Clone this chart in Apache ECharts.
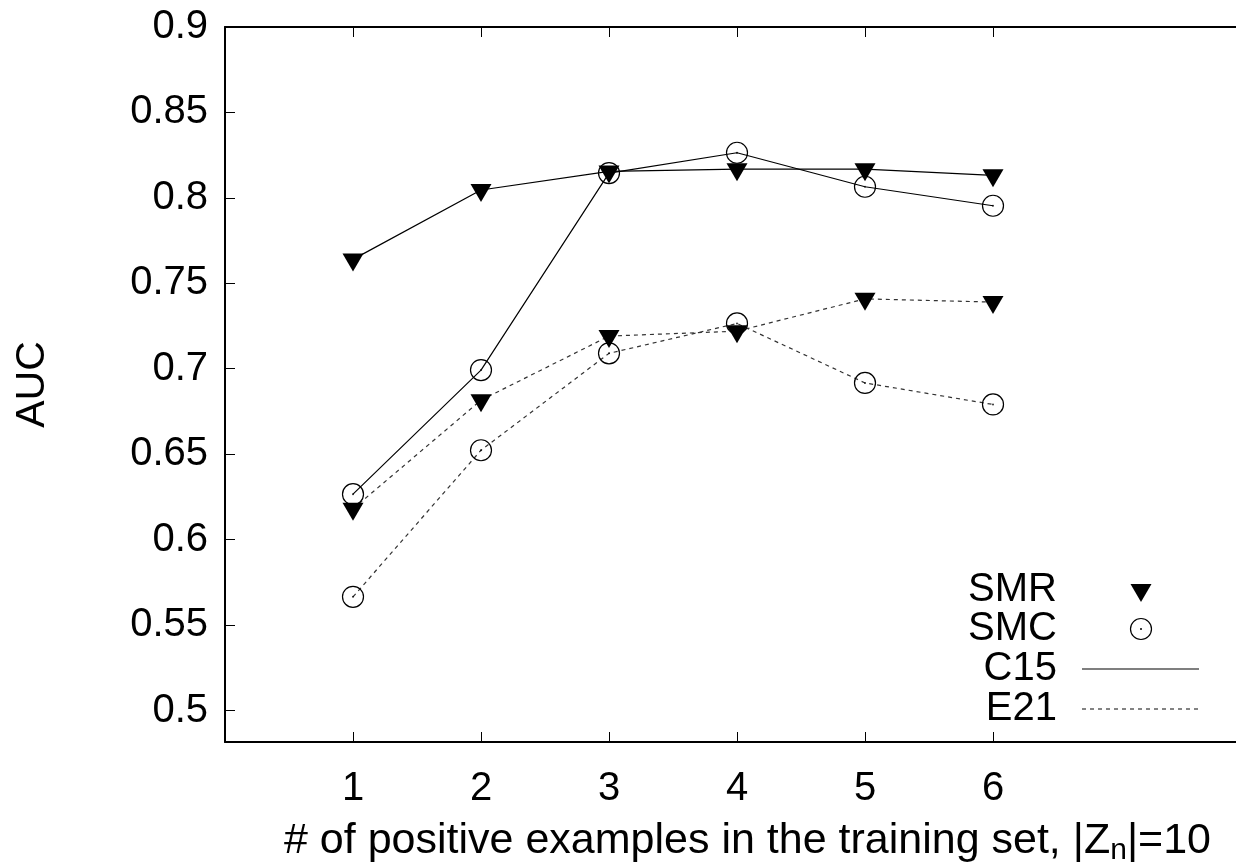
<!DOCTYPE html>
<html>
<head>
<meta charset="utf-8">
<script src="https://cdn.jsdelivr.net/npm/echarts@6/dist/echarts.min.js"></script>
<style>
html,body{margin:0;padding:0;background:#fff;}
#chart{width:1236px;height:863px;}
</style>
</head>
<body>
<div id="chart"></div>
<script>
// ---- data ----
const xValues = [1, 2, 3, 4, 5, 6];
const smrC15 = [0.764, 0.8046, 0.8155, 0.8168, 0.8168, 0.8132];
const smcC15 = [0.6266, 0.6992, 0.8145, 0.8264, 0.8065, 0.7954];
const smrE21 = [0.618, 0.6816, 0.7191, 0.722, 0.7409, 0.739];
const smcE21 = [0.5665, 0.6523, 0.709, 0.7265, 0.6917, 0.6791];
const yTicks = [0.5, 0.55, 0.6, 0.65, 0.7, 0.75, 0.8, 0.85, 0.9];
const xTicks = [1, 2, 3, 4, 5, 6];
const legendLabels = ['SMR', 'SMC', 'C15', 'E21'];

const FONT = 'Liberation Sans, Arial, sans-serif';
const FS = 40;

function pairs(ys) { return xValues.map((x, i) => [x, ys[i]]); }

const triSym = {
  symbol: 'triangle', symbolRotate: 180, symbolSize: [21, 18], symbolOffset: [0, 3],
  itemStyle: { color: '#000', borderWidth: 0 }
};
const circSym = {
  symbol: 'circle', symbolSize: 21,
  itemStyle: { color: 'rgba(0,0,0,0)', borderColor: '#000', borderWidth: 1.2 }
};
const solid = { color: '#000', width: 1.2, type: 'solid' };
const dashed = { color: '#333', width: 1.2, type: [4, 4] };

function lineSeries(name, ys, sym, ls) {
  return Object.assign({
    name: name, type: 'line', data: pairs(ys), showSymbol: true,
    lineStyle: ls, silent: true, animation: false, z: 2
  }, sym);
}
function dotSeries(ys) {
  return {
    type: 'scatter', data: pairs(ys), symbol: 'circle', symbolSize: 2,
    itemStyle: { color: '#000' }, silent: true, animation: false, z: 3
  };
}

const chart = echarts.init(document.getElementById('chart'), null, { renderer: 'canvas' });

const legX = 1057, legSampleX = 1141, legY = [590, 629, 669, 709];
const X_MAX = 1011 / 128;

const option = {
  animation: false,
  backgroundColor: '#fff',
  grid: { left: 225, top: 27, right: 0, bottom: 121, containLabel: false, outerBoundsMode: 'none' },
  xAxis: [{
    type: 'value', min: 0, max: X_MAX, position: 'bottom',
    axisLine: { show: true, onZero: false, lineStyle: { color: '#000', width: 2 } },
    axisTick: { show: true, inside: true, length: 10, customValues: xTicks, lineStyle: { color: '#000', width: 1 } },
    axisLabel: { show: true, customValues: xTicks, margin: 27, color: '#000', fontSize: FS, fontFamily: FONT },
    splitLine: { show: false },
    name: '# of positive examples in the training set, |Z{sub|n}|=10',
    nameLocation: 'middle', nameGap: 74,
    nameTextStyle: {
      color: '#000', fontSize: 43, fontFamily: FONT, padding: [0, 0, 0, 34],
      rich: { sub: { fontSize: 30, fontFamily: FONT, color: '#000', padding: [20, 0, 0, 0] } }
    }
  }, {
    type: 'value', min: 0, max: X_MAX, position: 'top',
    axisLine: { show: true, onZero: false, lineStyle: { color: '#000', width: 2 } },
    axisTick: { show: true, inside: true, length: 10, customValues: xTicks, lineStyle: { color: '#000', width: 1 } },
    axisLabel: { show: false },
    splitLine: { show: false }
  }],
  yAxis: [{
    type: 'value', min: 0.5 - 31.5 / 1708, max: 0.9,
    axisLine: { show: true, onZero: false, lineStyle: { color: '#000', width: 2 } },
    axisTick: { show: true, inside: true, length: 10, customValues: yTicks, lineStyle: { color: '#000', width: 1 } },
    axisLabel: {
      show: true, customValues: yTicks, margin: 17, color: '#000', fontSize: FS, fontFamily: FONT,
      formatter: v => String(Math.round(v * 100) / 100)
    },
    splitLine: { show: false },
    name: 'AUC', nameLocation: 'middle', nameGap: 172, nameRotate: 90,
    nameTextStyle: { color: '#000', fontSize: 41, fontFamily: FONT }
  }],
  series: [
    lineSeries('SMR C15', smrC15, triSym, solid),
    lineSeries('SMC C15', smcC15, circSym, solid),
    lineSeries('SMR E21', smrE21, triSym, dashed),
    lineSeries('SMC E21', smcE21, circSym, dashed),
    dotSeries(smcC15),
    dotSeries(smcE21)
  ],
  graphic: [
    ...legendLabels.map((t, i) => ({
      type: 'text', x: legX, y: legY[i],
      style: { text: t, fill: '#000', font: FS + 'px ' + FONT, textAlign: 'right', textVerticalAlign: 'middle' }
    })),
    { type: 'polygon', shape: { points: [[legSampleX - 10.5, legY[0] - 6], [legSampleX + 10.5, legY[0] - 6], [legSampleX, legY[0] + 12]] },
      style: { fill: '#000' } },
    { type: 'circle', shape: { cx: legSampleX, cy: legY[1], r: 10.5 }, style: { fill: 'none', stroke: '#000', lineWidth: 1.2 } },
    { type: 'circle', shape: { cx: legSampleX, cy: legY[1], r: 1 }, style: { fill: '#000' } },
    { type: 'line', shape: { x1: 1082, y1: legY[2], x2: 1199, y2: legY[2] }, style: { stroke: '#000', lineWidth: 1.2 } },
    { type: 'line', shape: { x1: 1082, y1: legY[3], x2: 1199, y2: legY[3] }, style: { stroke: '#333', lineWidth: 1.2, lineDash: [4, 4] } }
  ]
};
chart.setOption(option);
</script>
</body>
</html>
